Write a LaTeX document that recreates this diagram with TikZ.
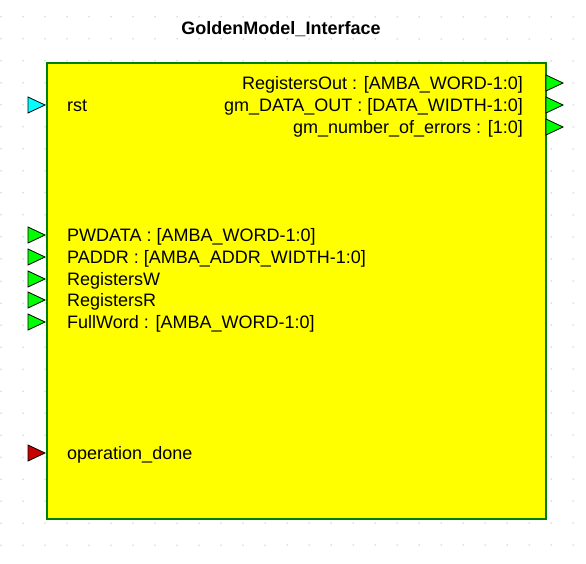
\documentclass[tikz,border=0pt]{standalone}
\usepackage{fontspec}
\setmainfont{Liberation Sans}
\begin{document}
\begin{tikzpicture}[x=1pt,y=1pt,
  lbl/.style={font=\fontsize{18}{20}\selectfont, inner sep=0pt},
  lport/.style={draw=black, line width=0.8pt},
]
\useasboundingbox (0,0) rectangle (586,563);
\fill[white] (0,0) rectangle (586,563);
% grid dots
\foreach \i in {0,...,26} {
  \foreach \j in {0,...,25} {
    \fill[gray!90!black] ({1+22*\i},{563-17-22*\j}) circle (0.5);
  }
}
% body
\node[draw={rgb,255:red,0;green,128;blue,0}, line width=2pt, fill={rgb,255:red,255;green,255;blue,0},
  minimum width=499pt, minimum height=456pt, inner sep=0pt, anchor=north west] (body) at (46,501) {};
\node[font=\bfseries\fontsize{18}{20}\selectfont, inner sep=0pt, anchor=base] (title) at (281,{563-34.5}) {GoldenModel\_Interface};
% left ports
\foreach \y/\c/\n in {105/{rgb,255:red,0;green,255;blue,255}/p1, 235/{rgb,255:red,0;green,255;blue,0}/p2, 257/{rgb,255:red,0;green,255;blue,0}/p3, 279/{rgb,255:red,0;green,255;blue,0}/p4, 300/{rgb,255:red,0;green,255;blue,0}/p5, 322/{rgb,255:red,0;green,255;blue,0}/p6, 453/{rgb,255:red,200;green,0;blue,0}/p7} {
  \filldraw[lport, fill=\c] (28,{563-\y+8}) -- (45,{563-\y}) -- (28,{563-\y-8}) -- cycle;
}
\foreach \y/\n in {83/q1, 105/q2, 127/q3} {
  \filldraw[lport, fill={rgb,255:red,0;green,255;blue,0}] (546,{563-\y+8}) -- (563,{563-\y}) -- (546,{563-\y-8}) -- cycle;
}
% left labels
\node[lbl, anchor=base west] (rst) at (67,{563-105-6.5}) {rst};
\node[lbl, anchor=base west] (pwdata) at (67,{563-235-6.5}) {PWDATA : [AMBA\_WORD-1:0]};
\node[lbl, anchor=base west] (paddr) at (67,{563-257-6.5}) {PADDR : [AMBA\_ADDR\_WIDTH-1:0]};
\node[lbl, anchor=base west] (regw) at (67,{563-279-6.5}) {RegistersW};
\node[lbl, anchor=base west] (regr) at (67,{563-300-6.5}) {RegistersR};
\node[lbl, anchor=base west] (fullword) at (67,{563-322-6.5}) {FullWord : [AMBA\_WORD-1:0]};
\node[lbl, anchor=base west] (opdone) at (67,{563-453-6.5}) {operation\_done};
% right labels
\node[lbl, anchor=base east] (regout) at (523,{563-83-6.5}) {RegistersOut : [AMBA\_WORD-1:0]};
\node[lbl, anchor=base east] (gmout) at (523,{563-105-6.5}) {gm\_DATA\_OUT : [DATA\_WIDTH-1:0]};
\node[lbl, anchor=base east] (gmerr) at (523,{563-127-6.5}) {gm\_number\_of\_errors : [1:0]};
\end{tikzpicture}
\end{document}
